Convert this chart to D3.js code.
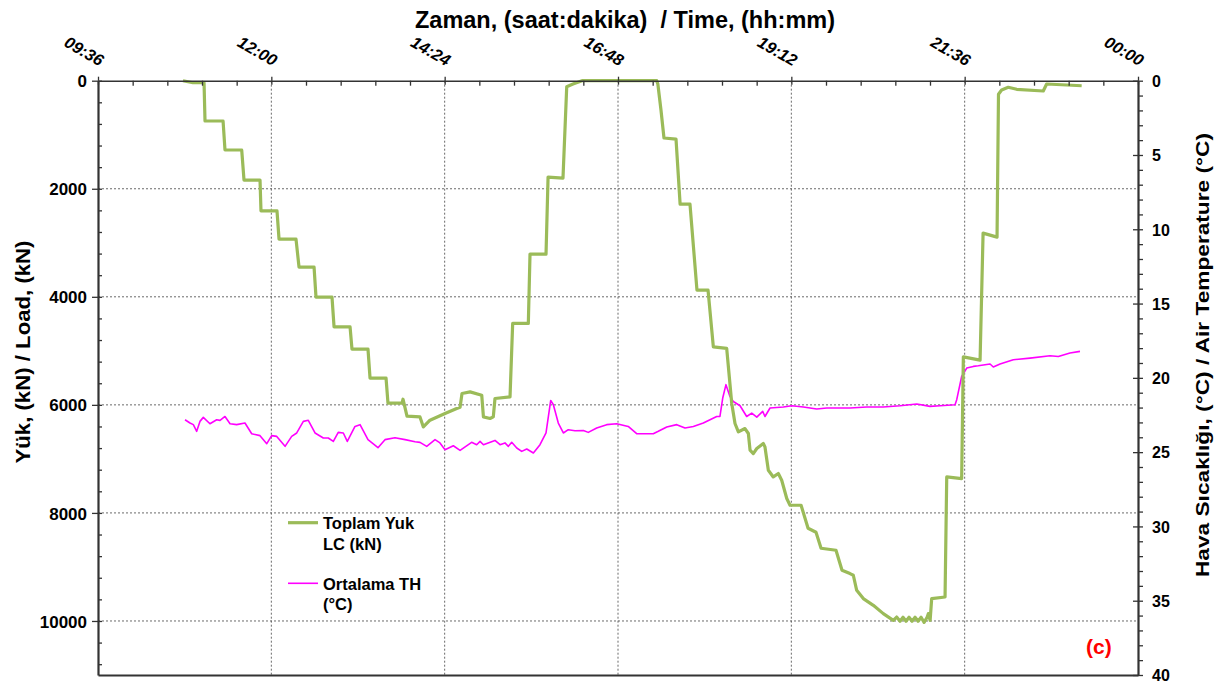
<!DOCTYPE html>
<html><head><meta charset="utf-8">
<script src="https://cdn.jsdelivr.net/npm/d3@7"></script>
<style>
html,body{margin:0;padding:0;background:#fff;}
svg text{font-family:Arial,"Liberation Sans",sans-serif;font-weight:bold;fill:#000;}
</style></head>
<body>
<svg id="c" width="1224" height="684"></svg>
<script>
// ---- data (time in minutes after midnight) ----
const loadTime = [646.6,654.9,664.1,664.9,679.9,681.5,695.4,697.3,710.6,711.4,724.7,726.4,740.5,743.0,755.5,757.1,770.4,772.1,785.4,787.0,800.3,802.0,815.3,816.9,828.6,829.4,832.7,843.5,846.3,851.8,864.3,874.0,876.8,878.4,885.1,894.8,896.2,901.7,904.4,905.8,918.3,920.5,933.5,934.9,948.2,949.9,962.3,965.4,970.6,978.1,1040.2,1041.1,1043.7,1046.2,1056.2,1059.6,1067.8,1073.6,1082.8,1087.2,1098.3,1102.5,1105.2,1108.0,1113.5,1116.3,1117.7,1120.4,1123.3,1128.7,1130.1,1132.9,1137.0,1141.2,1144.0,1148.2,1150.9,1160.1,1165.9,1172.5,1176.7,1189.1,1194.1,1200.7,1203.5,1206.3,1211.8,1220.1,1228.4,1236.7,1239.5,1242.3,1244.8,1247.3,1249.8,1252.3,1254.8,1257.3,1259.8,1262.3,1264.8,1265.8,1267.3,1268.6,1279.7,1281.1,1293.5,1294.9,1308.8,1311.3,1322.9,1324.1,1326.7,1332.2,1339.2,1361.3,1364.1,1380.7,1393.2];
const loadKN = [0,37,37,746,746,1283,1283,1839,1839,2408,2408,2932,2932,3450,3450,4006,4006,4556,4556,4969,4969,5506,5506,5969,5969,5895,6210,6223,6408,6284,6160,6067,6043,5789,5760,5821,6223,6252,6223,5882,5852,4493,4493,3210,3210,1783,1802,111,61,0,0,61,543,1061,1080,2284,2284,3876,3876,4926,4956,5975,6345,6500,6438,6530,6839,6901,6808,6715,6778,7210,7334,7271,7395,7734,7858,7858,8284,8358,8654,8691,9062,9123,9154,9432,9586,9710,9864,9988,9927,10006,9932,10006,9932,10006,9932,10006,9932,10025,9932,9864,9988,9586,9556,7334,7364,5112,5173,2821,2895,250,172,122,159,191,61,80,93];
const tempTime = [648.3,652.4,655.2,658.0,660.7,663.5,669.0,674.6,677.4,681.5,685.7,691.2,698.1,703.7,710.6,716.2,720.3,724.5,731.4,736.9,741.1,746.6,750.7,756.3,763.2,767.3,771.5,775.6,779.8,783.1,789.5,793.7,800.3,808.6,814.4,822.7,831.1,839.4,843.5,849.1,856.0,860.1,864.3,871.2,876.8,886.4,890.6,893.4,896.2,905.8,910.0,914.1,916.9,919.7,923.9,928.0,932.2,937.7,943.2,948.2,952.1,954.3,958.4,962.6,966.7,972.3,979.2,983.3,990.3,998.6,1006.9,1016.5,1023.5,1031.8,1037.3,1041.5,1048.5,1056.8,1063.7,1070.6,1078.9,1090.0,1092.7,1095.0,1097.7,1101.0,1103.8,1109.4,1114.9,1119.1,1123.3,1128.2,1130.1,1134.3,1145.4,1152.3,1162.0,1173.1,1181.4,1200.8,1214.6,1228.4,1242.3,1256.2,1267.2,1275.5,1288.0,1289.4,1293.5,1297.7,1303.2,1307.3,1317.1,1319.8,1325.4,1336.4,1350.3,1366.9,1373.8,1383.5,1391.8];
const tempC = [22.82,23.04,23.15,23.60,22.93,22.66,23.09,22.82,22.86,22.60,23.09,23.15,23.04,23.76,23.89,24.43,23.89,23.94,24.61,23.94,23.71,22.93,22.86,23.71,24.05,24.05,24.28,23.67,23.71,24.28,23.27,23.15,24.16,24.70,24.16,24.03,24.16,24.30,24.34,24.61,24.16,24.38,24.84,24.57,24.88,24.34,24.50,24.28,24.50,24.21,24.50,24.38,24.61,24.34,24.72,24.95,24.79,25.06,24.50,23.71,21.52,21.81,23.04,23.71,23.49,23.56,23.54,23.67,23.38,23.15,23.09,23.27,23.76,23.76,23.76,23.60,23.31,23.15,23.38,23.27,23.04,22.60,22.60,21.36,20.46,21.25,21.59,21.88,22.60,22.37,22.64,22.26,22.60,22.03,21.96,21.88,21.96,22.10,22.03,22.03,21.96,21.96,21.88,21.76,21.92,21.88,21.81,21.47,19.91,19.34,19.23,19.19,19.07,19.27,19.07,18.78,18.67,18.51,18.56,18.33,18.22];

const timeTicks = [576,720,864,1008,1152,1296,1440];
const timeLabels = ["09:36","12:00","14:24","16:48","19:12","21:36","00:00"];
const loadTicks = [0,2000,4000,6000,8000,10000];
const tempTicks = [0,5,10,15,20,25,30,35,40];
const seriesNames = [["Toplam Yuk","LC (kN)"],["Ortalama TH","(°C)"]];
const seriesColors = ["#9BBB59","#FF00FF"];

// ---- layout ----
const L = 98, R = 1138, T = 80.7, B = 675;
const svg = d3.select("#c");
const x = d3.scaleLinear().domain([576,1440]).range([L,R]);
const y = d3.scaleLinear().domain([0,11000]).range([T,B]);
const yT = d3.scaleLinear().domain([0,40]).range([T,B]);

// grid
const grid = svg.append("g").attr("stroke","#444").attr("stroke-width",0.8).attr("stroke-dasharray","2,2");
grid.selectAll("line.h").data(loadTicks.filter(d=>d>0)).join("line")
  .attr("x1",L).attr("x2",R).attr("y1",d=>y(d)).attr("y2",d=>y(d));
grid.selectAll("line.v").data(timeTicks.slice(1,-1)).join("line")
  .attr("x1",d=>x(d)).attr("x2",d=>x(d)).attr("y1",T).attr("y2",B);

// series
const lineG = d3.line().x(d=>x(d[0])).y(d=>y(d[1]));
const lineT = d3.line().x(d=>x(d[0])).y(d=>yT(d[1]));
const gData = d3.zip(loadTime, loadKN);
const tData = d3.zip(tempTime, tempC);
svg.append("path").datum(tData).attr("d",lineT).attr("fill","none")
  .attr("stroke",seriesColors[1]).attr("stroke-width",1.6).attr("stroke-linejoin","round");
svg.append("path").datum(gData).attr("d",lineG).attr("fill","none")
  .attr("stroke",seriesColors[0]).attr("stroke-width",3.2).attr("stroke-linejoin","round");

function styleAxis(g, w){
  g.selectAll("path.domain").attr("stroke","#333").attr("stroke-width",w);
  g.selectAll(".tick line").attr("stroke","#333").attr("stroke-width",1.3);
}
// minor ticks
const minorTime = d3.range(576,1440.1,28.8).filter(v=>!timeTicks.some(t=>Math.abs(t-v)<0.5));
const minorLoad = d3.range(0,11000.1,400).filter(v=>v%2000!==0);
const minorTemp = d3.range(0,40.1,1).filter(v=>v%5!==0);

svg.append("g").attr("transform",`translate(0,${T})`)
  .call(d3.axisTop(x).tickValues(minorTime).tickSize(-5).tickFormat(""))
  .call(g=>g.select(".domain").remove()).call(g=>styleAxis(g,1));
svg.append("g").attr("transform",`translate(${L},0)`)
  .call(d3.axisLeft(y).tickValues(minorLoad).tickSize(-4).tickFormat(""))
  .call(g=>g.select(".domain").remove()).call(g=>styleAxis(g,1));
svg.append("g").attr("transform",`translate(${R},0)`)
  .call(d3.axisRight(yT).tickValues(minorTemp).tickSize(5).tickFormat(""))
  .call(g=>g.select(".domain").remove()).call(g=>styleAxis(g,1));

// bottom line
svg.append("g").attr("transform",`translate(0,${B})`)
  .call(d3.axisBottom(x).tickValues([]).tickSizeOuter(0))
  .call(g=>styleAxis(g,2.2));

// top axis
const topAx = svg.append("g").attr("transform",`translate(0,${T})`)
  .call(d3.axisTop(x).tickValues(timeTicks).tickSize(4).tickSizeOuter(0).tickFormat((d,i)=>timeLabels[i]));
styleAxis(topAx,1.5);
topAx.selectAll(".tick").append("line").attr("y2",4).attr("stroke","#333").attr("stroke-width",1.3);
topAx.selectAll(".tick text").attr("x",0).attr("y",0).attr("dy",0)
  .attr("text-anchor","end").attr("transform","translate(1,-14) rotate(30)")
  .style("font-size","16.5px").style("font-style","italic").style("font-weight","bold").attr("fill","#000");

// left axis
const leftAx = svg.append("g").attr("transform",`translate(${L},0)`)
  .call(d3.axisLeft(y).tickValues(loadTicks).tickSize(6).tickSizeOuter(0).tickFormat(d3.format("d")));
styleAxis(leftAx,2.2);
leftAx.selectAll(".tick").append("line").attr("x2",4).attr("stroke","#333").attr("stroke-width",1.3);
leftAx.selectAll(".tick text").attr("x",-11).attr("dy","0.36em")
  .style("font-size","17px").style("font-weight","bold").attr("fill","#000");

// right axis
const rightAx = svg.append("g").attr("transform",`translate(${R},0)`)
  .call(d3.axisRight(yT).tickValues(tempTicks).tickSize(5).tickSizeOuter(0).tickFormat(d3.format("d")));
styleAxis(rightAx,2.2);
rightAx.selectAll(".tick").append("line").attr("x2",-5).attr("stroke","#333").attr("stroke-width",1.3);
rightAx.selectAll(".tick text").attr("x",14).attr("dy","0.36em")
  .style("font-size","16px").style("font-weight","bold").attr("fill","#000");

// titles
svg.append("text").attr("x",625).attr("y",28).attr("text-anchor","middle")
  .style("font-size","23.5px").text("Zaman, (saat:dakika)\u00A0 / Time, (hh:mm)");
svg.append("text").attr("transform","translate(30,352) rotate(-90)").attr("text-anchor","middle")
  .attr("textLength",223).attr("lengthAdjust","spacingAndGlyphs")
  .style("font-size","21px").text("Yük, (kN) / Load, (kN)");
svg.append("text").attr("transform","translate(1209,355) rotate(-90)").attr("text-anchor","middle")
  .attr("textLength",444).attr("lengthAdjust","spacingAndGlyphs")
  .style("font-size","19px").text("Hava Sıcaklığı, (°C) / Air Temperature (°C)");

// legend
const leg = svg.append("g");
const legY = [522.7, 583.3];
seriesNames.forEach((nm,i)=>{
  leg.append("line").attr("x1",288).attr("x2",318).attr("y1",legY[i]).attr("y2",legY[i])
    .attr("stroke",seriesColors[i]).attr("stroke-width",i===0?3.2:1.6);
  nm.forEach((t,j)=>{
    leg.append("text").attr("x",323).attr("y",legY[i]+6.5+j*20.5).style("font-size","16.5px").text(t);
  });
});

// panel label
svg.append("text").attr("x",1086).attr("y",654).style("font-size","21px")
  .style("fill","#FF0000").text("(c)");
</script>
</body></html>
